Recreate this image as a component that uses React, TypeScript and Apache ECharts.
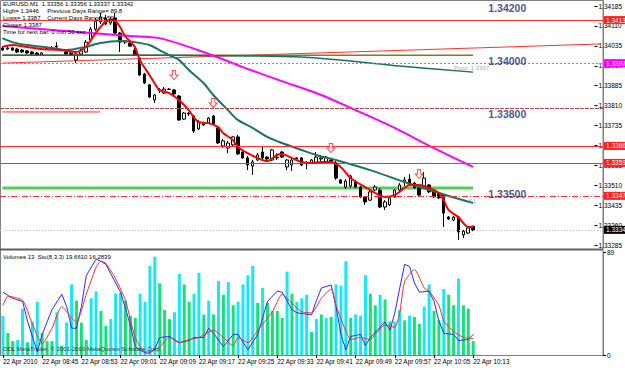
import { useEffect, useRef } from 'react';
import * as echarts from 'echarts';

// ---------- categories / ticks ----------
const BAR_COUNT = 97; // 08:37 .. 10:13, one-minute bars
const SLOT_COUNT = 123; // empty room on the right side of the chart
const categories: string[] = Array.from({ length: SLOT_COUNT }, (_, i) => {
  if (i >= BAR_COUNT) return '';
  const m = 8 * 60 + 37 + i;
  return String(Math.floor(m / 60)).padStart(2, '0') + ':' + String(m % 60).padStart(2, '0');
});
const timeTickIdx = [0, 8, 16, 24, 32, 40, 48, 56, 64, 72, 80, 88, 96];
const timeTickLabels = ['22 Apr 2010', '22 Apr 08:45', '22 Apr 08:53', '22 Apr 09:01', '22 Apr 09:09', '22 Apr 09:17', '22 Apr 09:25', '22 Apr 09:33', '22 Apr 09:41', '22 Apr 09:49', '22 Apr 09:57', '22 Apr 10:05', '22 Apr 10:13'];
const priceTicks = ['1.33285', '1.33360', '1.33435', '1.33510', '1.33585', '1.33660', '1.33735', '1.33810', '1.33885', '1.33960', '1.34035', '1.34110', '1.34185'];

// ---------- OHLC ----------
const opens = [1.34027,1.34023,1.34027,1.34023,1.34019,1.34016,1.34012,1.34008,1.34000,1.34025,
1.34023,1.34031,1.34019,1.34012,1.34008,1.33982,1.34004,1.34012,1.34057,1.34098,
1.34125,1.34140,1.34121,1.34140,1.34083,1.34049,1.34046,1.34019,1.33989,1.33929,
1.33888,1.33831,1.33865,1.33857,1.33872,1.33869,1.33846,1.33759,1.33782,1.33771,
1.33722,1.33741,1.33744,1.33771,1.33726,1.33658,1.33650,1.33662,1.33692,1.33635,
1.33613,1.33582,1.33605,1.33635,1.33616,1.33605,1.33613,1.33635,1.33579,1.33586,
1.33613,1.33613,1.33594,1.33594,1.33594,1.33609,1.33598,1.33605,1.33594,1.33530,
1.33503,1.33507,1.33522,1.33503,1.33466,1.33454,1.33492,1.33492,1.33428,1.33436,
1.33466,1.33492,1.33522,1.33533,1.33518,1.33500,1.33503,1.33511,1.33492,1.33481,
1.33473,1.33390,1.33379,1.33390,1.33323,1.33330,1.33356];
const closes = [1.34019,1.34027,1.34019,1.34012,1.34012,1.34008,1.34004,1.34000,1.34008,1.34027,
1.34027,1.34034,1.34017,1.34004,1.34000,1.34004,1.34016,1.34049,1.34098,1.34128,
1.34144,1.34117,1.34132,1.34083,1.34049,1.34053,1.34034,1.34000,1.33925,1.33895,
1.33842,1.33850,1.33869,1.33872,1.33871,1.33854,1.33756,1.33782,1.33778,1.33714,
1.33748,1.33737,1.33763,1.33741,1.33669,1.33677,1.33669,1.33692,1.33628,1.33613,
1.33586,1.33598,1.33624,1.33613,1.33609,1.33643,1.33616,1.33616,1.33605,1.33605,
1.33609,1.33586,1.33592,1.33605,1.33616,1.33613,1.33616,1.33601,1.33537,1.33518,
1.33526,1.33545,1.33503,1.33466,1.33447,1.33485,1.33503,1.33428,1.33447,1.33462,
1.33492,1.33511,1.33530,1.33518,1.33500,1.33473,1.33537,1.33485,1.33466,1.33462,
1.33405,1.33383,1.33390,1.33334,1.33337,1.33349,1.33342];
const highs = [1.34034,1.34034,1.34031,1.34027,1.34023,1.34019,1.34016,1.34012,1.34012,1.34031,
1.34034,1.34049,1.34023,1.34016,1.34012,1.34012,1.34023,1.34057,1.34106,1.34140,
1.34159,1.34151,1.34144,1.34159,1.34087,1.34057,1.34049,1.34027,1.33993,1.33933,
1.33891,1.33854,1.33876,1.33880,1.33876,1.33872,1.33850,1.33786,1.33786,1.33775,
1.33756,1.33744,1.33767,1.33775,1.33729,1.33684,1.33677,1.33695,1.33699,1.33643,
1.33620,1.33605,1.33631,1.33654,1.33620,1.33646,1.33631,1.33639,1.33609,1.33613,
1.33616,1.33616,1.33601,1.33609,1.33635,1.33624,1.33620,1.33613,1.33601,1.33533,
1.33533,1.33549,1.33530,1.33507,1.33469,1.33492,1.33511,1.33500,1.33454,1.33469,
1.33496,1.33518,1.33541,1.33552,1.33522,1.33503,1.33560,1.33515,1.33496,1.33485,
1.33477,1.33394,1.33394,1.33394,1.33342,1.33353,1.33356];
const lows = [1.34016,1.34019,1.34016,1.34008,1.34008,1.34004,1.34000,1.33997,1.33997,1.34023,
1.34019,1.34027,1.34016,1.34000,1.33997,1.33970,1.34000,1.34008,1.34053,1.34091,
1.34117,1.34113,1.34113,1.34080,1.34012,1.34042,1.34031,1.33997,1.33921,1.33891,
1.33839,1.33820,1.33857,1.33854,1.33869,1.33850,1.33752,1.33756,1.33771,1.33707,
1.33718,1.33733,1.33741,1.33737,1.33665,1.33650,1.33631,1.33658,1.33624,1.33609,
1.33567,1.33549,1.33601,1.33609,1.33605,1.33601,1.33605,1.33613,1.33567,1.33564,
1.33601,1.33582,1.33571,1.33590,1.33590,1.33598,1.33594,1.33598,1.33530,1.33515,
1.33496,1.33500,1.33500,1.33462,1.33436,1.33451,1.33488,1.33424,1.33417,1.33432,
1.33462,1.33488,1.33507,1.33515,1.33496,1.33469,1.33500,1.33481,1.33462,1.33458,
1.33353,1.33379,1.33375,1.33304,1.33311,1.33326,1.33337];

// ---------- moving averages ([bar index, price]) ----------
const fastMA = [[0,1.34031],[2,1.34038],[5,1.34031],[8,1.34023],[12,1.34019],[15,1.34012],[17,1.34031],[19,1.34083],[20,1.34106],[21,1.34125],[22,1.34132],[23,1.34128],[24,1.34106],[25,1.34072],[27,1.34031],[28,1.33982],[30,1.33925],[31,1.33895],[32,1.33869],[34,1.33857],[36,1.33831],[38,1.33793],[39,1.33767],[40,1.33748],[42,1.33744],[44,1.33729],[45,1.33707],[47,1.33680],[48,1.33654],[50,1.33631],[52,1.33613],[54,1.33601],[56,1.33624],[57,1.33628],[59,1.33613],[61,1.33598],[63,1.33594],[65,1.33598],[67,1.33598],[69,1.33579],[71,1.33537],[74,1.33503],[76,1.33481],[78,1.33466],[80,1.33473],[82,1.33500],[83,1.33511],[85,1.33511],[87,1.33500],[89,1.33481],[90,1.33454],[91,1.33417],[93,1.33390],[94,1.33368],[95,1.33353],[96,1.33353]];
const midMA = [[0,1.34064],[2,1.34049],[5,1.34038],[10,1.34027],[13,1.34019],[17,1.34031],[20,1.34046],[24,1.34053],[27,1.34049],[30,1.34038],[32,1.34019],[34,1.34000],[36,1.33982],[38,1.33944],[41,1.33895],[43,1.33850],[46,1.33793],[48,1.33756],[51,1.33726],[54,1.33692],[57,1.33669],[61,1.33643],[64,1.33624],[68,1.33605],[75,1.33567],[82,1.33522],[89,1.33481],[96,1.33443]];
const slowMA = [[0,1.34000],[32,1.34000],[50,1.33997],[61,1.33993],[71,1.33978],[81,1.33959],[96,1.33936]];
const magentaMA = [[0,1.34110],[18,1.34083],[26,1.34072],[32,1.34064],[41,1.34012],[49,1.33955],[57,1.33902],[65,1.33850],[72,1.33793],[80,1.33726],[88,1.33650],[96,1.33579]];
const trendLine = [[0,1.33970],[122,1.34042]];
const shortRed = [[0,1.33786],[20,1.33786]];

// ---------- levels ----------
const roundLevels = [1.342, 1.340, 1.338, 1.335];
const roundLevelNames = ['1.34200', '1.34000', '1.33800', '1.33500'];
const resistance1 = 1.34132;
const pivot = 1.33970;
const r2 = 1.33658;
const r1 = 1.33594;
const s1 = 1.33470;
const lastPrice = 1.33342;
const fractalsDown = [[35,1.33925],[43,1.33820],[67,1.33650],[85,1.33552]];

// ---------- volumes & stochastic ----------
const volumes = [34,19,12,13,40,11,29,46,19,12,
12,37,8,28,61,47,28,13,49,55,
38,25,31,53,54,47,34,32,53,46,
77,85,62,39,31,37,70,61,46,53,
71,35,47,35,64,52,63,43,46,61,
69,77,45,58,45,38,38,32,72,53,
46,49,52,20,31,35,32,33,61,60,
81,32,35,34,69,53,43,52,48,29,
29,39,30,34,33,27,42,61,38,30,
57,52,43,66,43,40,12];
const volumeUp = [1,0,0,1,1,0,1,1,0,0,
0,1,0,1,1,0,0,0,1,1,
0,0,1,1,1,0,0,0,1,1,
1,1,0,0,0,1,1,0,0,1,
1,0,1,0,1,0,1,0,1,1,
1,1,0,1,0,0,0,0,1,0,
1,1,1,0,1,0,1,0,1,1,
1,0,1,1,1,0,0,1,0,0,
1,1,0,1,0,0,1,1,0,0,
1,0,0,1,0,0,0];
const stochK = [[0,61],[2,55],[4,52],[5,33],[7,3],[8,20],[10,44],[12,59],[13,47],[14,26],[15,26],[16,47],[17,77],[19,93],[20,91],[21,88],[22,79],[24,61],[26,29],[27,8],[29,2],[30,2],[31,6],[32,17],[34,18],[36,12],[38,14],[39,17],[41,17],[42,26],[43,21],[45,8],[47,20],[48,20],[50,5],[52,20],[53,36],[54,52],[56,62],[57,61],[59,44],[60,41],[63,39],[64,53],[65,65],[67,68],[68,47],[69,20],[70,5],[71,18],[73,20],[74,9],[75,17],[77,27],[78,32],[79,24],[80,41],[81,65],[82,88],[83,86],[84,70],[85,61],[87,62],[88,52],[89,33],[90,21],[92,20],[93,14],[95,15],[96,20]];
const stochD = [[0,48],[1,57],[4,53],[6,30],[8,11],[10,26],[12,47],[14,36],[15,32],[17,59],[19,85],[20,91],[21,89],[23,74],[25,53],[27,17],[29,3],[30,3],[32,8],[34,17],[36,12],[38,15],[40,17],[43,24],[45,17],[47,9],[48,17],[50,12],[52,24],[55,42],[57,59],[59,50],[61,42],[63,41],[65,55],[67,64],[68,48],[70,23],[71,15],[73,17],[75,15],[76,20],[78,29],[80,27],[81,41],[82,71],[84,83],[86,65],[87,62],[89,48],[90,33],[92,23],[94,17],[96,16]];

const headerLines = [
  'EURUSD,M1  1.33356 1.33356 1.33337 1.33342',
  'High= 1.3446     Previous Days Range= 89.8',
  'Lows= 1.3387    Current Days Range= 59',
  'Close= 1.3387',
  'Time for next bar: 0 min 50 sec',
];

const FONT = 'Liberation Sans, Arial, sans-serif';
const PLOT_W = 603;

export default function App() {
  const ref = useRef<HTMLDivElement>(null);
  useEffect(() => {
    document.body.style.margin = '0';
    const chart = echarts.init(ref.current!, null, { renderer: 'svg' });
    const candles = opens.map((o, i) => [o, closes[i], lows[i], highs[i]]);
    const boxLabel = (text: string, bg: string) => ({
      show: true, position: 'end', distance: 1, formatter: text, backgroundColor: bg,
      color: '#fff', fontSize: 6.5, fontFamily: FONT, padding: [1, 2, 0, 2],
    });
    const hLine = (v: number, color: string, type: any, label: any, width = 1) => ({
      yAxis: v, lineStyle: { color, width, type }, label,
    });
    const option: any = {
      animation: false,
      backgroundColor: '#ffffff',
      textStyle: { fontFamily: FONT },
      grid: [
        { left: 0, top: 0, width: PLOT_W, height: 248 },
        { left: 0, top: 252, width: PLOT_W, height: 103 },
        { left: 0, top: 6, width: PLOT_W, height: 239 },
      ],
      xAxis: [
        { type: 'category', gridIndex: 0, data: categories, axisLine: { show: false }, axisTick: { show: false }, axisLabel: { show: false } },
        {
          type: 'category', gridIndex: 1, data: categories,
          axisLine: { show: true, lineStyle: { color: '#808080', width: 1 } },
          axisTick: { show: true, alignWithLabel: true, length: 3, interval: (i: number) => timeTickIdx.includes(i), lineStyle: { color: '#000' } },
          axisLabel: {
            show: true, interval: (i: number) => timeTickIdx.includes(i), align: 'left', margin: 3,
            fontSize: 6.4, color: '#000',
            formatter: (_v: string, i: number) => { const p = timeTickIdx.indexOf(i); return p >= 0 ? timeTickLabels[p] : ''; },
          },
        },
        { type: 'category', gridIndex: 2, data: categories, show: false },
      ],
      yAxis: [
        { type: 'value', gridIndex: 0, position: 'right', min: 1.332737, max: 1.342076, scale: true,
          axisLine: { show: true, lineStyle: { color: '#808080' } }, axisTick: { show: false }, axisLabel: { show: false }, splitLine: { show: false } },
        { type: 'value', gridIndex: 1, position: 'right', min: 0, max: 89, interval: 89,
          axisLine: { show: true, lineStyle: { color: '#808080' } }, axisTick: { show: true, length: 3, lineStyle: { color: '#000' } },
          axisLabel: { fontSize: 6.5, color: '#000', margin: 4 }, splitLine: { show: false } },
        { type: 'value', gridIndex: 1, position: 'right', min: 0, max: 100, show: false },
        { type: 'value', gridIndex: 2, position: 'right', min: 0, max: 12, interval: 1,
          axisLine: { show: false }, axisTick: { show: true, length: 3, lineStyle: { color: '#000' } },
          axisLabel: { fontSize: 6.5, color: '#000', margin: 4, formatter: (v: number) => priceTicks[Math.round(v)] ?? '' },
          splitLine: { show: false } },
      ],
      series: [
        {
          type: 'line', xAxisIndex: 0, yAxisIndex: 0, data: trendLine, showSymbol: false,
          lineStyle: { color: '#ff3030', width: 1 }, z: 1, silent: true,
          markLine: {
            symbol: 'none', silent: true, animation: false, precision: 5,
            data: [
              hLine(resistance1, '#ff3030', 'solid', boxLabel('1.3413', '#ff2020')),
              hLine(pivot, '#ff40ff', [2, 2], boxLabel('1.3397', '#ff00ff')),
              hLine(roundLevels[2], '#b84848', [4, 1], { show: false }),
              hLine(r2, '#ff3030', 'solid', boxLabel('1.3366', '#ff2020')),
              hLine(r1, '#ff3030', 'solid', boxLabel('1.3359', '#ff2020')),
              hLine(s1, '#ff3030', [6, 2, 1, 2], boxLabel('1.3347', '#ff2020')),
              hLine(lastPrice, '#c0c0c0', [1, 2], boxLabel('1.33342', '#000000')),
            ],
          },
        },
        {
          type: 'line', xAxisIndex: 0, yAxisIndex: 0, data: shortRed, showSymbol: false,
          lineStyle: { color: '#ff3030', width: 1 }, z: 1, silent: true,
        },
        {
          type: 'line', xAxisIndex: 0, yAxisIndex: 0, data: [[0, roundLevels[1]], [96, roundLevels[1]]], showSymbol: false,
          lineStyle: { color: '#8a7d10', width: 1.5 }, z: 1, silent: true,
        },
        {
          type: 'line', xAxisIndex: 0, yAxisIndex: 0, data: [[0, roundLevels[3]], [96, roundLevels[3]]], showSymbol: false,
          lineStyle: { color: '#4fd04f', width: 3 }, z: 1, silent: true,
        },
        {
          type: 'candlestick', xAxisIndex: 0, yAxisIndex: 0, data: candles, barWidth: 3, z: 3, silent: true,
          itemStyle: { color: '#ffffff', color0: '#000000', borderColor: '#000000', borderColor0: '#000000', borderWidth: 1 },
        },
        {
          type: 'line', xAxisIndex: 0, yAxisIndex: 0, data: slowMA, showSymbol: false, smooth: 0.3,
          lineStyle: { color: '#1b6e68', width: 1.5 }, z: 4, silent: true,
        },
        {
          type: 'line', xAxisIndex: 0, yAxisIndex: 0, data: magentaMA, showSymbol: false, smooth: 0.3,
          lineStyle: { color: '#ff00ff', width: 2 }, z: 4, silent: true,
        },
        {
          type: 'line', xAxisIndex: 0, yAxisIndex: 0, data: midMA, showSymbol: false, smooth: 0.3,
          lineStyle: { color: '#1a7560', width: 2 }, z: 4, silent: true,
        },
        {
          type: 'line', xAxisIndex: 0, yAxisIndex: 0, data: fastMA, showSymbol: false, smooth: 0.3,
          lineStyle: { color: '#ff0000', width: 2 }, z: 5, silent: true,
        },
        {
          type: 'scatter', xAxisIndex: 0, yAxisIndex: 0, data: fractalsDown, z: 6, silent: true,
          symbol: 'path://M3,0 L7,0 L7,5 L10,5 L5,10 L0,5 L3,5 Z', symbolSize: [8, 9],
          itemStyle: { color: '#ffffff', borderColor: '#ff2020', borderWidth: 1 },
        },
        {
          type: 'scatter', xAxisIndex: 0, yAxisIndex: 0, z: 6, silent: true, symbolSize: 1,
          itemStyle: { color: 'rgba(0,0,0,0)' },
          data: roundLevels.map((v, i) => ({ value: [99, v], name: roundLevelNames[i] })),
          label: { show: true, position: 'right', distance: 0, offset: [0, 6], formatter: (p: any) => p.name,
            fontSize: 10.5, fontWeight: 'bold', color: '#1c1c78', fontFamily: FONT },
        },
        {
          type: 'scatter', xAxisIndex: 0, yAxisIndex: 0, z: 6, silent: true, symbolSize: 1,
          itemStyle: { color: 'rgba(0,0,0,0)' },
          data: [{ value: [92, pivot], name: 'Pivot  1.3397' }, { value: [95, s1], name: 'S1' }],
          label: { show: true, position: 'right', distance: 0, offset: [0, 5], formatter: (p: any) => p.name,
            fontSize: 6, color: '#909090', fontFamily: FONT },
        },
        {
          type: 'bar', xAxisIndex: 1, yAxisIndex: 1, barWidth: 3, silent: true,
          data: volumes.map((v, i) => ({ value: v, itemStyle: { color: volumeUp[i] ? '#1ae6f5' : '#16e07a' } })),
        },
        {
          type: 'line', xAxisIndex: 1, yAxisIndex: 2, data: stochK, showSymbol: false,
          lineStyle: { color: '#2a2aff', width: 1 }, z: 5, silent: true,
        },
        {
          type: 'line', xAxisIndex: 1, yAxisIndex: 2, data: stochD, showSymbol: false, smooth: 0.2,
          lineStyle: { color: '#ff2a2a', width: 1 }, z: 5, silent: true,
        },
      ],
      graphic: [
        { type: 'rect', shape: { x: 0.5, y: 0.5, width: PLOT_W - 0.5, height: 355 }, style: { fill: 'none', stroke: '#808080', lineWidth: 1 }, silent: true, z: 0 },
        { type: 'line', shape: { x1: 0, y1: 249.5, x2: PLOT_W, y2: 249.5 }, style: { stroke: '#606060', lineWidth: 2 }, silent: true },
        ...headerLines.map((t, i) => ({
          type: 'text', left: 3, top: 1 + i * 7, silent: true, z: 10,
          style: { text: t, fontSize: 6, fill: '#000', fontFamily: FONT },
        })),
        { type: 'text', left: 3, top: 254, silent: true, z: 10, style: { text: 'Volumes 13  Sto(8,3,3) 19.6610 16.2839', fontSize: 6, fill: '#000', fontFamily: FONT } },
        { type: 'text', left: 3, top: 346, silent: true, z: 10, style: { text: 'ODL MetaTrader, © 2001-2009 MetaQuotes Software Corp.', fontSize: 6, fill: '#303030', fontFamily: FONT } },
      ],
    };
    chart.setOption(option);
    return () => chart.dispose();
  }, []);
  return <div ref={ref} style={{ position: 'absolute', left: 0, top: 0, width: 625, height: 370, background: '#fff' }} />;
}
